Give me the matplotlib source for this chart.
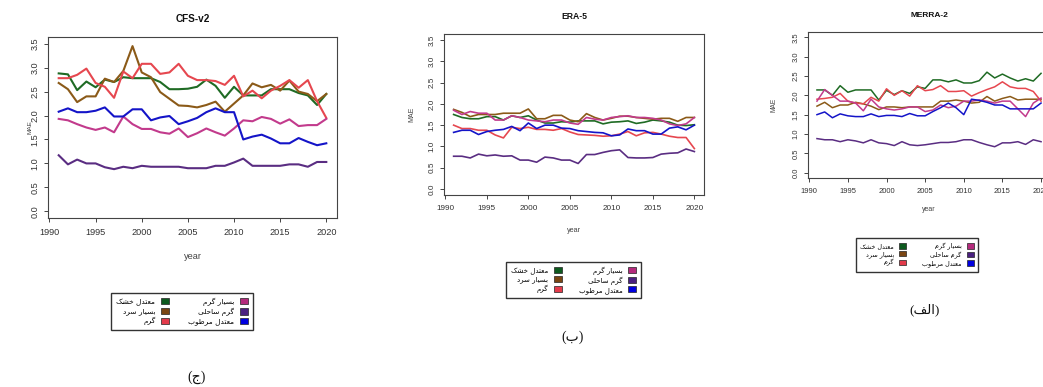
import matplotlib
matplotlib.use("Agg")
import matplotlib.pyplot as plt
from matplotlib.patches import Patch

years = list(range(1991, 2021))

# Climate-zone names (Persian) and their line colours
zone_names = ["معتدل خشک", "بسیار سرد", "گرم", "بسیار گرم", "گرم ساحلی", "معتدل مرطوب"]
zone_colors = ["#1f6b24", "#8b5a18", "#e6474f", "#c23a8c", "#5a2d82", "#1414c8"]
legend_colors = ["#0d5a1f", "#7a4512", "#e33a4a", "#b42a7c", "#4a2080", "#0000e0"]

# MAE per year, CFS-v2
cfs_dry_temperate = [2.88, 2.86, 2.53, 2.71, 2.59, 2.75, 2.70, 2.80, 2.78, 2.78, 2.78, 2.70, 2.55, 2.55, 2.56, 2.60, 2.75, 2.62, 2.37, 2.60, 2.42, 2.42, 2.42, 2.55, 2.55, 2.55, 2.47, 2.42, 2.22, 2.45]
cfs_very_cold = [2.68, 2.55, 2.28, 2.40, 2.40, 2.77, 2.70, 2.93, 3.45, 2.90, 2.80, 2.49, 2.35, 2.21, 2.20, 2.17, 2.22, 2.29, 2.08, 2.25, 2.42, 2.67, 2.59, 2.64, 2.52, 2.73, 2.50, 2.45, 2.30, 2.45]
cfs_warm = [2.78, 2.78, 2.85, 2.98, 2.68, 2.60, 2.37, 2.92, 2.78, 3.08, 3.08, 2.87, 2.90, 3.08, 2.83, 2.74, 2.74, 2.72, 2.64, 2.83, 2.40, 2.52, 2.36, 2.52, 2.62, 2.74, 2.58, 2.74, 2.30, 1.95]
cfs_very_warm = [1.93, 1.90, 1.82, 1.75, 1.70, 1.75, 1.65, 1.98, 1.82, 1.72, 1.72, 1.65, 1.62, 1.73, 1.55, 1.63, 1.73, 1.65, 1.58, 1.73, 1.90, 1.88, 1.97, 1.93, 1.83, 1.92, 1.78, 1.80, 1.80, 1.93]
cfs_coastal_warm = [1.17, 0.98, 1.08, 1.00, 1.00, 0.92, 0.88, 0.93, 0.90, 0.95, 0.93, 0.93, 0.93, 0.93, 0.90, 0.90, 0.90, 0.95, 0.95, 1.02, 1.10, 0.95, 0.95, 0.95, 0.95, 0.98, 0.98, 0.93, 1.03, 1.03]
cfs_humid_temperate = [2.08, 2.15, 2.07, 2.07, 2.10, 2.17, 1.98, 1.98, 2.13, 2.13, 1.90, 1.96, 1.99, 1.82, 1.88, 1.95, 2.07, 2.15, 2.07, 2.07, 1.50, 1.56, 1.60, 1.52, 1.42, 1.42, 1.53, 1.45, 1.38, 1.42]

# MAE per year, ERA-5
era_dry_temperate = [1.75, 1.68, 1.65, 1.65, 1.70, 1.70, 1.62, 1.72, 1.68, 1.72, 1.62, 1.55, 1.55, 1.58, 1.57, 1.60, 1.60, 1.60, 1.53, 1.57, 1.58, 1.60, 1.54, 1.57, 1.62, 1.60, 1.57, 1.50, 1.49, 1.51]
era_very_cold = [1.87, 1.80, 1.70, 1.75, 1.75, 1.75, 1.78, 1.78, 1.78, 1.88, 1.65, 1.65, 1.73, 1.73, 1.62, 1.58, 1.77, 1.68, 1.62, 1.66, 1.71, 1.71, 1.68, 1.66, 1.64, 1.66, 1.66, 1.59, 1.68, 1.68]
era_warm = [1.50, 1.42, 1.42, 1.38, 1.38, 1.27, 1.20, 1.45, 1.42, 1.45, 1.40, 1.40, 1.38, 1.42, 1.34, 1.28, 1.27, 1.26, 1.24, 1.25, 1.29, 1.35, 1.25, 1.32, 1.33, 1.29, 1.24, 1.21, 1.21, 0.95]
era_very_warm = [1.85, 1.75, 1.82, 1.78, 1.78, 1.62, 1.62, 1.72, 1.68, 1.62, 1.60, 1.58, 1.62, 1.62, 1.55, 1.52, 1.68, 1.64, 1.62, 1.68, 1.70, 1.72, 1.68, 1.68, 1.66, 1.62, 1.53, 1.49, 1.53, 1.68]
era_coastal_warm = [0.77, 0.77, 0.73, 0.82, 0.78, 0.80, 0.77, 0.78, 0.68, 0.68, 0.63, 0.75, 0.73, 0.68, 0.68, 0.60, 0.81, 0.81, 0.86, 0.90, 0.92, 0.74, 0.73, 0.73, 0.74, 0.82, 0.84, 0.85, 0.94, 0.88]
era_humid_temperate = [1.33, 1.38, 1.38, 1.28, 1.35, 1.38, 1.40, 1.47, 1.37, 1.55, 1.42, 1.50, 1.50, 1.43, 1.42, 1.37, 1.35, 1.33, 1.32, 1.25, 1.27, 1.41, 1.37, 1.37, 1.29, 1.29, 1.43, 1.46, 1.39, 1.50]

# MAE per year, MERRA-2
merra_dry_temperate = [2.14, 2.14, 2.00, 2.25, 2.08, 2.14, 2.14, 2.14, 1.88, 2.13, 2.02, 2.12, 2.05, 2.22, 2.18, 2.40, 2.40, 2.35, 2.40, 2.32, 2.32, 2.38, 2.60, 2.45, 2.55, 2.45, 2.37, 2.43, 2.37, 2.57]
merra_very_cold = [1.72, 1.82, 1.68, 1.75, 1.75, 1.82, 1.78, 1.72, 1.63, 1.70, 1.70, 1.68, 1.70, 1.70, 1.70, 1.70, 1.85, 1.85, 1.88, 1.85, 1.80, 1.82, 1.97, 1.85, 1.92, 1.97, 1.88, 1.90, 1.90, 1.90]
merra_warm = [1.90, 1.92, 1.95, 2.05, 1.85, 1.80, 1.78, 1.95, 1.85, 2.17, 2.00, 2.12, 1.98, 2.25, 2.12, 2.15, 2.25, 2.10, 2.10, 2.12, 1.98, 2.07, 2.15, 2.22, 2.35, 2.22, 2.18, 2.18, 2.10, 1.85]
merra_very_warm = [1.85, 2.15, 2.00, 1.85, 1.85, 1.80, 1.60, 1.90, 1.70, 1.65, 1.62, 1.65, 1.70, 1.70, 1.58, 1.62, 1.75, 1.68, 1.72, 1.85, 1.85, 1.88, 1.85, 1.80, 1.85, 1.85, 1.65, 1.45, 1.80, 1.93]
merra_coastal_warm = [0.88, 0.85, 0.85, 0.80, 0.85, 0.82, 0.77, 0.85, 0.77, 0.75, 0.70, 0.80, 0.72, 0.70, 0.72, 0.75, 0.78, 0.78, 0.80, 0.85, 0.85, 0.78, 0.72, 0.67, 0.77, 0.77, 0.80, 0.73, 0.85, 0.80]
merra_humid_temperate = [1.50, 1.57, 1.42, 1.52, 1.47, 1.45, 1.45, 1.52, 1.45, 1.48, 1.48, 1.45, 1.53, 1.47, 1.47, 1.58, 1.68, 1.80, 1.68, 1.50, 1.90, 1.87, 1.82, 1.75, 1.75, 1.65, 1.65, 1.65, 1.65, 1.80]

panel_titles = ["CFS-v2", "ERA-5", "MERRA-2"]
panel_letters = ["ج", "ب", "الف"]
x_ticks = [1990, 1995, 2000, 2005, 2010, 2015, 2020]
y_ticks = [0.0, 0.5, 1.0, 1.5, 2.0, 2.5, 3.0, 3.5]


# --- minimal Arabic-script shaping (matplotlib lays text out left-to-right) ---
FORMS = {  # isolated, final, initial, medial
    "ا": ("\uFE8D", "\uFE8E", None, None),
    "ب": ("\uFE8F", "\uFE90", "\uFE91", "\uFE92"),
    "ت": ("\uFE95", "\uFE96", "\uFE97", "\uFE98"),
    "ج": ("\uFE9D", "\uFE9E", "\uFE9F", "\uFEA0"),
    "ح": ("\uFEA1", "\uFEA2", "\uFEA3", "\uFEA4"),
    "خ": ("\uFEA5", "\uFEA6", "\uFEA7", "\uFEA8"),
    "د": ("\uFEA9", "\uFEAA", None, None),
    "ر": ("\uFEAD", "\uFEAE", None, None),
    "س": ("\uFEB1", "\uFEB2", "\uFEB3", "\uFEB4"),
    "ش": ("\uFEB5", "\uFEB6", "\uFEB7", "\uFEB8"),
    "ط": ("\uFEC1", "\uFEC2", "\uFEC3", "\uFEC4"),
    "ع": ("\uFEC9", "\uFECA", "\uFECB", "\uFECC"),
    "ف": ("\uFED1", "\uFED2", "\uFED3", "\uFED4"),
    "ل": ("\uFEDD", "\uFEDE", "\uFEDF", "\uFEE0"),
    "م": ("\uFEE1", "\uFEE2", "\uFEE3", "\uFEE4"),
    "و": ("\uFEED", "\uFEEE", None, None),
    "ی": ("\uFBFC", "\uFBFD", "\uFBFE", "\uFBFF"),
    "ک": ("\uFB8E", "\uFB8F", "\uFB90", "\uFB91"),
    "گ": ("\uFB92", "\uFB93", "\uFB94", "\uFB95"),
}


def shape_rtl(text):
    out = []
    n = len(text)
    for i, ch in enumerate(text):
        if ch not in FORMS:
            out.append(ch)
            continue
        iso, fin, ini, med = FORMS[ch]
        prev = text[i - 1] if i > 0 else ""
        nxt = text[i + 1] if i < n - 1 else ""
        join_prev = prev in FORMS and FORMS[prev][2] is not None
        join_next = ini is not None and nxt in FORMS
        if join_prev and join_next:
            out.append(med)
        elif join_prev:
            out.append(fin)
        elif join_next:
            out.append(ini)
        else:
            out.append(iso)
    return "".join(reversed(out))


plt.rcParams["font.family"] = ["Liberation Sans", "DejaVu Sans"]

fig = plt.figure(figsize=(10.43, 3.87), dpi=100)
W, H = 1043.0, 387.0


def px_axes(left, top, right, bottom):
    return fig.add_axes([left / W, 1 - bottom / H, (right - left) / W, (bottom - top) / H])


panels = [
    dict(box=(48, 37, 337, 218), series=[cfs_dry_temperate, cfs_very_cold, cfs_warm, cfs_very_warm, cfs_coastal_warm, cfs_humid_temperate],
         tick_fs=6.6, title_fs=7.2, lab_fs=6.6, mae_fs=4.6, lw=1.5, mae_x=-0.055, year_y=-0.19, pad=4.5,
         legend=(182, 311.5), leg_fs=5.3, letter=(197, 377), letter_fs=10),
    dict(box=(444, 34, 704, 195), series=[era_dry_temperate, era_very_cold, era_warm, era_very_warm, era_coastal_warm, era_humid_temperate],
         tick_fs=5.9, title_fs=6.2, lab_fs=5.2, mae_fs=5.0, lw=1.2, mae_x=-0.11, year_y=-0.20, pad=4.5,
         legend=(573.5, 280), leg_fs=5.0, letter=(573, 337), letter_fs=10),
    dict(box=(808, 32, 1050, 178), series=[merra_dry_temperate, merra_very_cold, merra_warm, merra_very_warm, merra_coastal_warm, merra_humid_temperate],
         tick_fs=5.5, title_fs=6.0, lab_fs=5.0, mae_fs=4.8, lw=1.1, mae_x=-0.125, year_y=-0.19, pad=4.0,
         legend=(917, 255), leg_fs=4.6, letter=(925, 310), letter_fs=9.5),
]

for p, title, letter in zip(panels, panel_titles, panel_letters):
    ax = px_axes(*p["box"])
    for values, color in zip(p["series"], zone_colors):
        ax.plot(years, values, color=color, lw=p["lw"], solid_joinstyle="round")
    ax.set_xlim(1989.84, 2021.16)
    ax.set_ylim(-0.14, 3.64)
    ax.set_xticks(x_ticks)
    ax.set_yticks(y_ticks)
    ax.set_yticklabels([f"{v:.1f}" for v in y_ticks], rotation=90, va="center")
    ax.tick_params(axis="both", labelsize=p["tick_fs"], colors="#444444", labelcolor="#333333",
                   length=3, width=0.7)
    ax.tick_params(axis="x", pad=p["pad"])
    ax.tick_params(axis="y", pad=3)
    for s in ax.spines.values():
        s.set_color("#444444")
        s.set_linewidth(0.8)
    ax.set_title(title, fontsize=p["title_fs"], fontweight="bold", pad=11, color="#111111")
    ax.set_xlabel("year", fontsize=p["lab_fs"], color="#444444")
    ax.xaxis.set_label_coords(0.5, p["year_y"])
    ax.set_ylabel("MAE", fontsize=p["mae_fs"], color="#444444")
    ax.yaxis.set_label_coords(p["mae_x"], 0.5)

    handles = [Patch(facecolor=c, edgecolor="#222222", linewidth=0.5) for c in legend_colors]
    labels = [shape_rtl(n) for n in zone_names]
    lx, ly = p["legend"]
    fig.legend(handles, labels, loc="center", bbox_to_anchor=(lx / W, 1 - ly / H), ncol=2,
               markerfirst=False, fontsize=p["leg_fs"], frameon=True, fancybox=False,
               edgecolor="#333333", framealpha=1, handlelength=1.1, handleheight=0.9,
               handletextpad=0.8, columnspacing=2.5, labelspacing=0.25, borderpad=0.7,
               prop={"family": ["DejaVu Sans"], "size": p["leg_fs"]})

    cx, cy = p["letter"]
    fig.text(cx / W, 1 - cy / H, "(" + shape_rtl(letter) + ")", ha="center", va="center",
             fontsize=p["letter_fs"], family=["Liberation Serif", "DejaVu Sans"], color="#111111")

fig.savefig("out.png", dpi=100, facecolor="white")
